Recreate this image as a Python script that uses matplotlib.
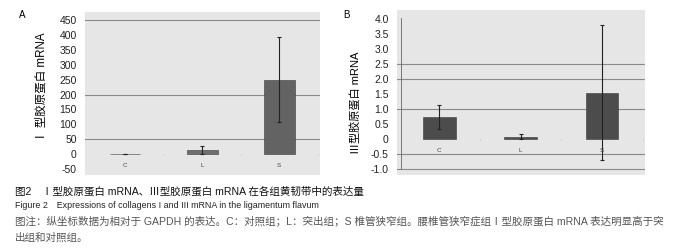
import matplotlib
matplotlib.use("Agg")
import matplotlib.pyplot as plt

plt.rcParams['font.family'] = ['Liberation Sans', 'Noto Sans CJK SC', 'DejaVu Sans']

groups = ["C", "L", "S"]
col1_mean = [1.0, 13.0, 250.0]
col1_err = [1.0, 14.0, 143.0]
col3_mean = [0.72, 0.08, 1.55]
col3_err = [0.40, 0.09, 2.25]

yticks_a = [-50, 0, 50, 100, 150, 200, 250, 300, 350, 400, 450]
yticks_b = [-1.0, -0.5, 0, 0.5, 1.0, 1.5, 2.0, 2.5, 3.0, 3.5, 4.0]
ylabels_b = ["-1.0", "-0.5", "0", "0.5", "1.0", "1.5", "2.0", "2.5", "3.0", "3.5", "4.0"]
grid_a = [450, 200, 50]
grid_b = [2.5, 2.0, 1.0, -0.5, -1.0]

caption = [
    "图2　Ⅰ型胶原蛋白 mRNA、Ⅲ型胶原蛋白 mRNA 在各组黄韧带中的表达量",
    "Figure 2　Expressions of collagens I and III mRNA in the ligamentum flavum",
    "图注：纵坐标数据为相对于 GAPDH 的表达。C：对照组；L：突出组；S 椎管狭窄组。腰椎管狭窄症组Ⅰ型胶原蛋白 mRNA 表达明显高于突",
    "出组和对照组。",
]

W, H = 700, 249
fig = plt.figure(figsize=(7, 2.49), dpi=100)


def box(x0, y0, x1, y1):
    return [x0 / W, 1 - y1 / H, (x1 - x0) / W, (y1 - y0) / H]


def panel(ax, means, errs, ticks, labels, grid, ylim, lab_y, colors):
    ax.set_facecolor("#e6e6e6")
    for s in ax.spines.values():
        s.set_visible(False)
    x = range(len(groups))
    for g in grid:
        ax.axhline(g, color="#8a8a8a", lw=0.8, zorder=1)
    ax.bar(x, means, width=0.4, color=colors, edgecolor="#3a3a3a",
           linewidth=0.4, zorder=2)
    ax.errorbar(x, means, yerr=errs, fmt="none", ecolor="#222222",
                elinewidth=0.8, capsize=1.5, capthick=0.8, zorder=3)
    ax.vlines([0.5, 1.5, 2.5], -(ylim[1] - ylim[0]) * 0.006,
              0, color="#aaaaaa", lw=0.5, zorder=1)
    for i, g in enumerate(groups):
        ax.text(i, lab_y, g, ha="center", va="center", fontsize=4.5,
                color="#444444")
    ax.set_xlim(-0.52, 2.53)
    ax.set_ylim(*ylim)
    ax.set_xticks([])
    ax.set_yticks(ticks)
    ax.set_yticklabels(labels)
    ax.tick_params(axis="y", length=0, pad=6, labelsize=7.5,
                   labelcolor="#222222")


ax1 = fig.add_axes(box(85, 12, 320, 175))
panel(ax1, col1_mean, col1_err, yticks_a, [str(t) for t in yticks_a],
      grid_a, (-70, 477), -39, ["#b0b0b0", "#6e6e6e", "#636363"])

ax2 = fig.add_axes(box(397, 10, 645, 175))
panel(ax2, col3_mean, col3_err, yticks_b, ylabels_b,
      grid_b, (-1.2, 4.3), -0.38, ["#4c4c4c", "#4c4c4c", "#4c4c4c"])
ax2.axvline(-0.47, ymin=0.035, ymax=0.95, color="#777777", lw=0.7, zorder=1)

fig.text(22 / W, 1 - 15 / H, "A", fontsize=7, ha="center", va="center")
fig.text(346 / W, 1 - 15 / H, "B", fontsize=7, ha="center", va="center")
fig.text(42 / W, 1 - 87 / H, "Ⅰ 型胶原蛋白 mRNA", rotation=90, fontsize=8.3,
         ha="center", va="center")
fig.text(356 / W, 1 - 103 / H, "Ⅲ型胶原蛋白 mRNA", rotation=90, fontsize=8,
         ha="center", va="center")

cap_y = [191, 206, 222, 237]
cap_col = ["#111111", "#222222", "#555555", "#555555"]
cap_size = [7.6, 6.4, 7.6, 7.6]
for txt, y, c, fs in zip(caption, cap_y, cap_col, cap_size):
    fig.text(15 / W, 1 - y / H, txt, fontsize=fs, ha="left", va="center",
             color=c)

fig.savefig("out.png", dpi=100)
